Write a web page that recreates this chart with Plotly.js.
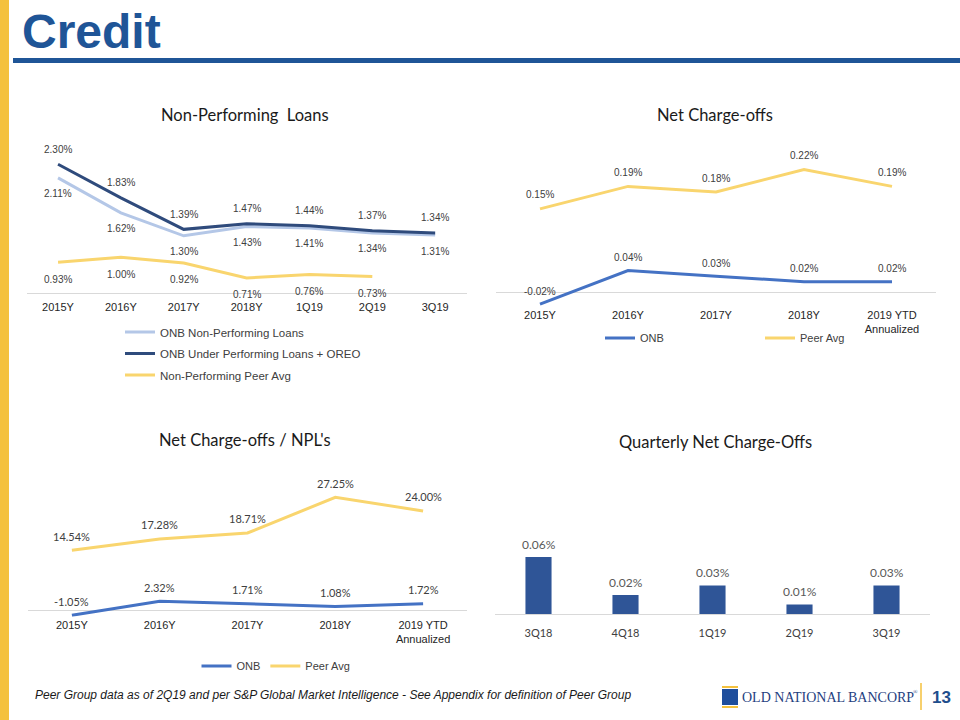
<!DOCTYPE html>
<html><head><meta charset="utf-8">
<script src="https://cdn.plot.ly/plotly-3.0.1.min.js"></script>
<style>html,body{margin:0;padding:0;background:#fff;}#chart{width:960px;height:720px;}</style>
</head><body><div id="chart"></div>
<script>
// ---- data ----
const nplCategories = ['2015Y','2016Y','2017Y','2018Y','1Q19','2Q19','3Q19'];
const onbNpl = [2.11,1.62,1.30,1.43,1.41,1.34,1.31];
const onbUnderPerf = [2.30,1.83,1.39,1.47,1.44,1.37,1.34];
const peerNpl = [0.93,1.00,0.92,0.71,0.76,0.73];

const ncoCategories = ['2015Y','2016Y','2017Y','2018Y','2019 YTD<br>Annualized'];
const onbNco = [-0.02,0.04,0.03,0.02,0.02];
const peerNco = [0.15,0.19,0.18,0.22,0.19];

const ncoNplCategories = ['2015Y','2016Y','2017Y','2018Y','2019 YTD<br>Annualized'];
const onbNcoNpl = [-1.05,2.32,1.71,1.08,1.72];
const peerNcoNpl = [14.54,17.28,18.71,27.25,24.00];

const quarters = ['3Q18','4Q18','1Q19','2Q19','3Q19'];
const quarterlyNco = [0.06,0.02,0.03,0.01,0.03];

// ---- styles ----
const ARIAL = 'Liberation Sans, Arial, sans-serif';
const CAL = 'Lato, Open Sans, sans-serif';
const LIGHT = '#B4C7E7', NAVY = '#2F4B7C', GOLD = '#F9D56E', BLUE = '#4472C4', BAR = '#2F5597';
const AXC = '#D9D9D9', TXT = '#404040';

const fmt = v => v.toFixed(2) + '%';
function labels(xs, ys, xref, yref, shift, font) {
  return ys.map((v, i) => ({
    x: xs[i], y: v, xref: xref, yref: yref, text: fmt(v), showarrow: false,
    xanchor: 'center', yanchor: 'middle', yshift: shift, font: font
  }));
}

const traces = [
  {x: nplCategories, y: onbNpl, name: 'ONB Non-Performing Loans', type: 'scatter', mode: 'lines',
   line: {color: LIGHT, width: 3}, xaxis: 'x', yaxis: 'y', legend: 'legend', legendgroup: 'a'},
  {x: nplCategories, y: onbUnderPerf, name: 'ONB Under Performing Loans + OREO', type: 'scatter', mode: 'lines',
   line: {color: NAVY, width: 3}, xaxis: 'x', yaxis: 'y', legend: 'legend', legendgroup: 'b'},
  {x: nplCategories.slice(0, peerNpl.length), y: peerNpl, name: 'Non-Performing Peer Avg', type: 'scatter', mode: 'lines',
   line: {color: GOLD, width: 3}, xaxis: 'x', yaxis: 'y', legend: 'legend', legendgroup: 'c'},

  {x: ncoCategories, y: onbNco, name: 'ONB', type: 'scatter', mode: 'lines',
   line: {color: BLUE, width: 3}, xaxis: 'x2', yaxis: 'y2', legend: 'legend2'},
  {x: ncoCategories, y: peerNco, name: 'Peer Avg', type: 'scatter', mode: 'lines',
   line: {color: GOLD, width: 3}, xaxis: 'x2', yaxis: 'y2', legend: 'legend2'},

  {x: ncoNplCategories, y: onbNcoNpl, name: 'ONB', type: 'scatter', mode: 'lines',
   line: {color: BLUE, width: 3}, xaxis: 'x3', yaxis: 'y3', legend: 'legend3'},
  {x: ncoNplCategories, y: peerNcoNpl, name: 'Peer Avg', type: 'scatter', mode: 'lines',
   line: {color: GOLD, width: 3}, xaxis: 'x3', yaxis: 'y3', legend: 'legend3'},

  {x: quarters, y: quarterlyNco, name: 'Quarterly NCO', type: 'bar', marker: {color: BAR},
   xaxis: 'x4', yaxis: 'y4', showlegend: false}
];

const lblA = {family: ARIAL, size: 10, color: TXT};
const lblC = {family: CAL, size: 11, color: TXT};
const lblC4 = {family: CAL, size: 12, color: '#595959'};

let annotations = []
  .concat(labels(nplCategories, onbUnderPerf, 'x', 'y', 15, lblA))
  .concat(labels(nplCategories, onbNpl, 'x', 'y', -16, lblA))
  .concat(labels(nplCategories, peerNpl, 'x', 'y', -17, lblA))
  .concat(labels(ncoCategories, onbNco, 'x2', 'y2', 13, lblA))
  .concat(labels(ncoCategories, peerNco, 'x2', 'y2', 14, lblA))
  .concat(labels(ncoNplCategories, onbNcoNpl, 'x3', 'y3', 14, lblC))
  .concat(labels(ncoNplCategories, peerNcoNpl, 'x3', 'y3', 14, lblC))
  .concat(labels(quarters, quarterlyNco, 'x4', 'y4', 13, lblC4));

const titleFont = {family: CAL, size: 16.5, color: '#1a1a1a'};
const px = v => v / 960, py = v => 1 - v / 720;
const title = (t, x, y) => ({text: t, x: px(x), y: py(y), xref: 'paper', yref: 'paper', xanchor: 'center', yanchor: 'middle',
  showarrow: false, font: titleFont});
annotations = annotations.concat([
  title('Non-Performing  Loans', 245, 115),
  title('Net Charge-offs', 715, 115),
  title("Net Charge-offs / NPL's", 245, 440),
  title('Quarterly Net Charge-Offs', 715, 442),
  {text: '<b>Credit</b>', x: px(20), y: py(31.5), xref: 'paper', yref: 'paper', xanchor: 'left', yanchor: 'middle',
   showarrow: false, font: {family: ARIAL, size: 48, color: '#1F5597'}},
  {text: '<i>Peer Group data as of 2Q19 and per S&P Global Market Intelligence - See Appendix for definition of Peer Group</i>',
   x: px(33), y: py(695), xref: 'paper', yref: 'paper', xanchor: 'left', yanchor: 'middle', showarrow: false,
   font: {family: ARIAL, size: 12, color: '#1a1a1a'}},
  {text: 'OLD NATIONAL BANCORP', x: px(740), y: py(697), xref: 'paper', yref: 'paper', xanchor: 'left', yanchor: 'middle',
   showarrow: false, font: {family: 'Liberation Serif, Times New Roman, serif', size: 14, color: '#1F3F7F'}},
  {text: '®', x: px(915), y: py(692), xref: 'paper', yref: 'paper', xanchor: 'center', yanchor: 'middle',
   showarrow: false, font: {family: 'Liberation Serif, Times New Roman, serif', size: 6, color: '#1F3F7F'}},
  {text: '<b>13</b>', x: px(930), y: py(697), xref: 'paper', yref: 'paper', xanchor: 'left', yanchor: 'middle',
   showarrow: false, font: {family: ARIAL, size: 17, color: '#1F4E8C'}}
]);

const shapes = [
  {type: 'rect', xref: 'paper', yref: 'paper', x0: 0, x1: px(9), y0: 0, y1: 1, fillcolor: '#F4C13D', line: {width: 0}},
  {type: 'rect', xref: 'paper', yref: 'paper', x0: px(13), x1: 1, y0: py(63), y1: py(58), fillcolor: '#1F5597', line: {width: 0}},
  {type: 'rect', xref: 'paper', yref: 'paper', x0: px(722), x1: px(738), y0: py(688), y1: py(686), fillcolor: '#F4C13D', line: {width: 0}},
  {type: 'rect', xref: 'paper', yref: 'paper', x0: px(722), x1: px(738), y0: py(705), y1: py(689), fillcolor: '#1F4E9C', line: {width: 0}},
  {type: 'rect', xref: 'paper', yref: 'paper', x0: px(722), x1: px(738), y0: py(708), y1: py(706), fillcolor: '#F4C13D', line: {width: 0}},
  {type: 'line', xref: 'paper', yref: 'paper', x0: px(921), x1: px(921), y0: py(710), y1: py(683), line: {color: '#F4C13D', width: 1.5}}
];

const tickFont = {family: ARIAL, size: 11, color: '#262626'};
const catX = (domain) => ({type: 'category', domain: domain, showgrid: false, zeroline: false, ticks: '',
  tickfont: tickFont, fixedrange: true});
const hiddenY = (domain, range) => ({domain: domain, range: range, showgrid: false, showticklabels: false,
  zeroline: false, showline: false, ticks: '', fixedrange: true});

const layout = {
  width: 960, height: 720, margin: {l: 0, r: 0, t: 0, b: 0, autoexpand: false},
  paper_bgcolor: '#ffffff', plot_bgcolor: 'rgba(0,0,0,0)',
  showlegend: true, bargap: 0.7,
  xaxis: Object.assign(catX([px(26.6), px(466.6)]), {range: [-0.5, 6.5], showline: true, linecolor: AXC, anchor: 'y', ticklabelstandoff: 4}),
  yaxis: Object.assign(hiddenY([py(293), py(150)], [0.5, 2.5]), {anchor: 'x'}),
  xaxis2: Object.assign(catX([px(496), px(936)]), {range: [-0.5, 4.5], anchor: 'y2'}),
  yaxis2: Object.assign(hiddenY([py(307), py(152.75)], [-0.025, 0.25]), {anchor: 'x2', zeroline: true, zerolinecolor: AXC, zerolinewidth: 1}),
  xaxis3: Object.assign(catX([px(28), px(467)]), {range: [-0.5, 4.5], anchor: 'y3'}),
  yaxis3: Object.assign(hiddenY([py(616.8), py(485.9)], [-1.4, 30]), {anchor: 'x3', zeroline: true, zerolinecolor: AXC, zerolinewidth: 1}),
  xaxis4: Object.assign(catX([px(495), px(930)]), {range: [-0.5, 4.5], anchor: 'y4', showline: true, linecolor: AXC,
    tickfont: {family: CAL, size: 11, color: '#404040'}, ticklabelstandoff: 9}),
  yaxis4: Object.assign(hiddenY([py(614), py(471.5)], [0, 0.15]), {anchor: 'x4'}),
  legend: {x: px(120), y: py(317.5), xanchor: 'left', yanchor: 'top', orientation: 'v',
    font: {family: ARIAL, size: 11.5, color: TXT}, bgcolor: 'rgba(0,0,0,0)', tracegroupgap: 2.5},
  legend2: {x: px(600), y: py(338), xanchor: 'left', yanchor: 'middle', orientation: 'h', entrywidth: 115,
    font: {family: ARIAL, size: 11, color: TXT}, bgcolor: 'rgba(0,0,0,0)'},
  legend3: {x: px(276), y: py(666), xanchor: 'center', yanchor: 'middle', orientation: 'h',
    font: {family: ARIAL, size: 11, color: TXT}, bgcolor: 'rgba(0,0,0,0)'},
  annotations: annotations,
  shapes: shapes
};

Plotly.newPlot('chart', traces, layout, {displayModeBar: false, staticPlot: true});
</script>
</body></html>
